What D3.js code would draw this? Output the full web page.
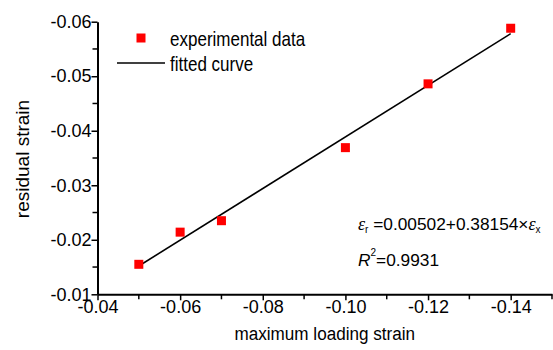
<!DOCTYPE html>
<html>
<head>
<meta charset="utf-8">
<script src="https://cdn.jsdelivr.net/npm/d3@7"></script>
<style>
  body { margin: 0; background: #fff; }
  text { font-family: "Liberation Sans", Arial, sans-serif; fill: #000; }
</style>
</head>
<body>
<svg id="chart" width="553" height="350"></svg>
<script>
const loadingStrain = [-0.05, -0.06, -0.07, -0.10, -0.12, -0.14];
const residualStrain = [-0.0155, -0.0214, -0.0235, -0.0369, -0.0486, -0.0588];
const fitX = [-0.05, -0.14];
const fitY = [-0.0152, -0.0578];
const xTicks = [-0.04, -0.06, -0.08, -0.10, -0.12, -0.14];
const yTicks = [-0.01, -0.02, -0.03, -0.04, -0.05, -0.06];

const svg = d3.select('#chart');
const margin = {top: 21.7, right: 1, bottom: 55.7, left: 97.5};
const width = 553, height = 350;

const x = d3.scaleLinear()
    .domain([-0.04, -0.15])
    .range([margin.left, width - margin.right]);
const y = d3.scaleLinear()
    .domain([-0.01, -0.06])
    .range([height - margin.bottom, margin.top]);

// plain hyphen, like the original
const fmt = v => d3.format('.2f')(v).replace('−', '-');

// minor ticks
const xMinor = d3.range(11).map(i => -0.05 - 0.02 * i).filter(v => v >= -0.151);
const yMinor = d3.range(5).map(i => -0.015 - 0.01 * i);

const xAxis = svg.append('g')
    .attr('transform', `translate(0,${y(-0.01)})`)
    .call(d3.axisBottom(x).tickValues(xTicks).tickFormat(fmt).tickSize(6).tickSizeOuter(0));
xAxis.selectAll('.minor')
    .data(xMinor)
    .enter()
    .append('line')
    .attr('x1', d => x(d)).attr('x2', d => x(d))
    .attr('y1', 0).attr('y2', 5)
    .attr('stroke', '#000').attr('stroke-width', 1.5);

const yAxis = svg.append('g')
    .attr('transform', `translate(${x(-0.04)},0)`)
    .call(d3.axisLeft(y).tickValues(yTicks).tickFormat(fmt).tickSize(6).tickSizeOuter(0));
yAxis.selectAll('.minor')
    .data(yMinor)
    .enter()
    .append('line')
    .attr('x1', -5).attr('x2', 0)
    .attr('y1', d => y(d)).attr('y2', d => y(d))
    .attr('stroke', '#000').attr('stroke-width', 1.5);

svg.selectAll('.domain').attr('stroke-width', 2);
svg.selectAll('.tick line').attr('stroke-width', 1.5);
svg.selectAll('.tick text')
    .attr('font-family', '"Liberation Sans", Arial, sans-serif')
    .attr('font-size', 18)
    .attr('fill', '#000');
xAxis.selectAll('.tick text').attr('dy', '0.71em').attr('y', 6);
yAxis.selectAll('.tick text').attr('x', -6);

// fitted line
svg.append('path')
    .datum(fitX.map((d, i) => [d, fitY[i]]))
    .attr('d', d3.line().x(d => x(d[0])).y(d => y(d[1])))
    .attr('stroke', '#000')
    .attr('stroke-width', 1.6)
    .attr('fill', 'none');

// data points
const ms = 9;
svg.selectAll('.pt')
    .data(loadingStrain)
    .enter()
    .append('rect')
    .attr('class', 'pt')
    .attr('x', d => x(d) - ms / 2)
    .attr('y', (d, i) => y(residualStrain[i]) - ms / 2)
    .attr('width', ms).attr('height', ms)
    .attr('fill', '#ff0000');

// condensed text helper
function narrow(px, py, str, size, sx, anchor) {
    return svg.append('text')
        .attr('transform', `translate(${px},${py}) scale(${sx},1)`)
        .attr('text-anchor', anchor || 'start')
        .attr('font-size', size)
        .text(str);
}

// axis titles
narrow((x.range()[0] + x.range()[1]) / 2, 340, 'maximum loading strain', 19, 0.9, 'middle');
svg.append('text')
    .attr('transform', `translate(29,159) rotate(-90)`)
    .attr('text-anchor', 'middle')
    .attr('font-size', 19)
    .text('residual strain');

// legend
svg.append('rect')
    .attr('x', 141 - ms / 2).attr('y', 38 - ms / 2)
    .attr('width', ms).attr('height', ms)
    .attr('fill', '#ff0000');
narrow(170, 45.7, 'experimental data', 20.5, 0.83);
svg.append('line')
    .attr('x1', 117).attr('x2', 165).attr('y1', 63).attr('y2', 63)
    .attr('stroke', '#000').attr('stroke-width', 1.6);
narrow(170, 70.7, 'fitted curve', 20.5, 0.83);

// equation
const eq = svg.append('text').attr('x', 358).attr('y', 230).attr('font-size', 17.3);
eq.append('tspan').attr('font-family', '"Liberation Serif", serif').attr('font-style', 'italic').attr('font-size', 18).text('ε');
eq.append('tspan').attr('font-size', 10).attr('dy', 3).text('r');
eq.append('tspan').attr('dy', -3).text(' =0.00502+0.38154×');
eq.append('tspan').attr('font-family', '"Liberation Serif", serif').attr('font-style', 'italic').attr('font-size', 18).text('ε');
eq.append('tspan').attr('font-size', 10).attr('dy', 3).text('x');

const r2 = svg.append('text').attr('x', 358).attr('y', 266).attr('font-size', 17.3);
r2.append('tspan').attr('font-style', 'italic').text('R');
r2.append('tspan').attr('font-size', 10).attr('dy', -10).text('2');
r2.append('tspan').attr('dy', 10).text('=0.9931');
</script>
</body>
</html>
